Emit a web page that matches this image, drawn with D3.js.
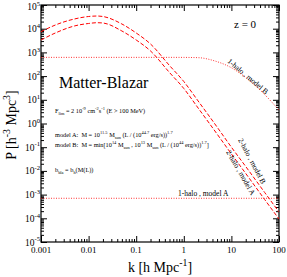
<!DOCTYPE html>
<html><head><meta charset="utf-8">
<script src="https://cdn.jsdelivr.net/npm/d3@7"></script>
<style>
body { margin: 0; background: #fff; }
text { font-family: "Liberation Serif", "Times New Roman", serif; white-space: pre; fill: #000; }
</style>
</head><body>
<script>
// k values (h/Mpc) and power spectra
const kGrid = [0.001, 0.002, 0.005, 0.01, 0.015, 0.02, 0.05, 0.1, 0.2, 0.5, 1, 2, 5, 10, 20, 50, 100]
const twoHaloB = [7460, 14300, 25600, 32700, 34300, 32700, 15800, 6590, 2260, 280, 59, 8.9, 0.71, 0.10, 0.0153, 0.00123, 1.85e-4]
const twoHaloA = [3340, 6590, 13000, 16600, 17900, 17400, 8000, 3340, 1150, 142, 30, 4.5, 0.36, 0.052, 0.0078, 6.2e-4, 9.3e-5]
const oneHaloBk = [0.001, 0.5, 1, 2, 4.5, 9.35, 19.3, 39.9, 100]
const oneHaloB = [617, 617, 615, 600, 434, 242, 92, 26, 3.7]
const oneHaloAk = [0.001, 100]
const oneHaloA = [7e-4, 7e-4]
const xTickLabels = ['0.001', '0.01', '0.1', '1', '10', '100']
const yExponents = [5, 4, 3, 2, 1, 0, -1, -2, -3, -4, -5]

const width = 287, height = 277
const margin = {top: 5, right: 8, bottom: 35, left: 41}
const red = '#ff0000'

const svg = d3.select('body').append('svg')
    .attr('width', width)
    .attr('height', height)

const x = d3.scaleLog().domain([0.001, 100]).range([margin.left, width - margin.right])
const y = d3.scaleLog().domain([1e-5, 1e5]).range([height - margin.bottom, margin.top])

// text with super/subscripts
function rich(sel, parts, size) {
    let cur = 0
    parts.forEach(([s, t]) => {
        const off = t === 'sup' ? -0.45 * size : t === 'sub' ? 0.3 * size : 0
        sel.append('tspan')
            .attr('dy', off - cur)
            .attr('font-size', t ? size * 0.7 : size)
            .text(s)
        cur = off
    })
    return sel
}

// minor ticks 2..9 per decade
function minors(lo, hi) {
    const out = []
    for (let e = lo; e < hi; e++) for (let m = 2; m <= 9; m++) out.push(m * Math.pow(10, e))
    return out
}
const xMajor = xTickLabels.map(Number)
const xMinor = minors(-3, 2)
const yMajor = yExponents.map(e => Math.pow(10, e))
const yMinor = minors(-5, 5)

const plotW = width - margin.left - margin.right
const plotH = height - margin.top - margin.bottom

function styleAxis(g) {
    g.select('.domain').remove()
    g.selectAll('line').attr('stroke', '#000').attr('stroke-width', 1)
}

// bottom and top axes
svg.append('g').attr('transform', `translate(0,${height - margin.bottom})`)
    .call(d3.axisBottom(x).tickValues(xMajor).tickSize(-6).tickFormat('')).call(styleAxis)
svg.append('g').attr('transform', `translate(0,${height - margin.bottom})`)
    .call(d3.axisBottom(x).tickValues(xMinor).tickSize(-3).tickFormat('')).call(styleAxis)
svg.append('g').attr('transform', `translate(0,${margin.top})`)
    .call(d3.axisTop(x).tickValues(xMajor).tickSize(-6).tickFormat('')).call(styleAxis)
svg.append('g').attr('transform', `translate(0,${margin.top})`)
    .call(d3.axisTop(x).tickValues(xMinor).tickSize(-3).tickFormat('')).call(styleAxis)

// left and right axes
svg.append('g').attr('transform', `translate(${margin.left},0)`)
    .call(d3.axisLeft(y).tickValues(yMajor).tickSize(-6).tickFormat('')).call(styleAxis)
svg.append('g').attr('transform', `translate(${margin.left},0)`)
    .call(d3.axisLeft(y).tickValues(yMinor).tickSize(-3).tickFormat('')).call(styleAxis)
svg.append('g').attr('transform', `translate(${width - margin.right},0)`)
    .call(d3.axisRight(y).tickValues(yMajor).tickSize(-6).tickFormat('')).call(styleAxis)
svg.append('g').attr('transform', `translate(${width - margin.right},0)`)
    .call(d3.axisRight(y).tickValues(yMinor).tickSize(-3).tickFormat('')).call(styleAxis)

// frame
svg.append('rect')
    .attr('x', margin.left).attr('y', margin.top)
    .attr('width', plotW).attr('height', plotH)
    .attr('fill', 'none').attr('stroke', '#000').attr('stroke-width', 1.2)

// tick labels
svg.selectAll('.xlab').data(xTickLabels).enter().append('text')
    .attr('x', d => x(+d))
    .attr('y', height - margin.bottom + 11)
    .attr('text-anchor', 'middle')
    .attr('font-size', 9)
    .text(d => d)

yExponents.forEach(e => {
    const t = svg.append('text')
        .attr('x', margin.left - 1)
        .attr('y', Math.max(y(Math.pow(10, e)) + 3.5, 10))
        .attr('text-anchor', 'end')
    rich(t, [['10', ''], [String(e), 'sup']], 9.5)
})

// axis titles
rich(svg.append('text')
    .attr('x', 160).attr('y', 272)
    .attr('text-anchor', 'middle'),
    [['k [h Mpc', ''], ['-1', 'sup'], [']', '']], 14)

rich(svg.append('text')
    .attr('transform', 'translate(16,125) rotate(-90)')
    .attr('text-anchor', 'middle'),
    [['P [h', ''], ['-3', 'sup'], [' Mpc', ''], ['3', 'sup'], [']', '']], 14)

// curves
const clipId = 'plotclip'
svg.append('clipPath').attr('id', clipId).append('rect')
    .attr('x', margin.left).attr('y', margin.top).attr('width', plotW).attr('height', plotH)

const line = d3.line()
    .x(d => x(d[0]))
    .y(d => y(d[1]))
    .curve(d3.curveMonotoneX)

const curves = svg.append('g').attr('clip-path', `url(#${clipId})`)

curves.append('path')
    .datum(kGrid.map((k, i) => [k, twoHaloB[i]]))
    .attr('d', line)
    .attr('fill', 'none').attr('stroke', red).attr('stroke-width', 1)
    .attr('stroke-dasharray', '4,2')

curves.append('path')
    .datum(kGrid.map((k, i) => [k, twoHaloA[i]]))
    .attr('d', line)
    .attr('fill', 'none').attr('stroke', red).attr('stroke-width', 1)
    .attr('stroke-dasharray', '4,2')

curves.append('path')
    .datum(oneHaloBk.map((k, i) => [k, oneHaloB[i]]))
    .attr('d', line)
    .attr('fill', 'none').attr('stroke', red).attr('stroke-width', 0.8)
    .attr('stroke-dasharray', '1,1.5')

curves.append('path')
    .datum(oneHaloAk.map((k, i) => [k, oneHaloA[i]]))
    .attr('d', line)
    .attr('fill', 'none').attr('stroke', red).attr('stroke-width', 0.8)
    .attr('stroke-dasharray', '1,1.5')

// annotations
svg.append('text').attr('x', 234).attr('y', 28).attr('font-size', 11).text('z = 0')
svg.append('text').attr('x', 59).attr('y', 88).attr('font-size', 16).text('Matter-Blazar')

const small = 6.3
rich(svg.append('text').attr('x', 55).attr('y', 113),
    [['F', ''], ['lim', 'sub'], [' = 2 10', ''], ['-9', 'sup'], [' cm', ''], ['-2', 'sup'], ['s', ''], ['-1', 'sup'], [' (E > 100 MeV)', '']], small)
rich(svg.append('text').attr('x', 55).attr('y', 137),
    [['model A:  M = 10', ''], ['11.5', 'sup'], [' M', ''], ['sun', 'sub'], [' (L / (10', ''], ['44.7', 'sup'], [' erg/s))', ''], ['1.7', 'sup']], small)
rich(svg.append('text').attr('x', 55).attr('y', 147),
    [['model B:  M = min[10', ''], ['14', 'sup'], [' M', ''], ['sun', 'sub'], [' , 10', ''], ['13', 'sup'], [' M', ''], ['sun', 'sub'], [' (L / (10', ''], ['44', 'sup'], [' erg/s))', ''], ['1.7', 'sup'], [']', '']], small)
rich(svg.append('text').attr('x', 55).attr('y', 172),
    [['b', ''], ['bla', 'sub'], [' = b', ''], ['h', 'sub'], ['(M(L))', '']], small)

svg.append('text').attr('x', 178).attr('y', 196).attr('font-size', 7.5).text('1-halo , model A')
svg.append('text').attr('transform', 'translate(227,62) rotate(40)').attr('font-size', 7.5).text('1-halo , model B')
svg.append('text').attr('transform', 'translate(238,140) rotate(62)').attr('font-size', 7.5).text('2-halo , model B')
svg.append('text').attr('transform', 'translate(226,152) rotate(60)').attr('font-size', 7.5).text('2-halo , model A')
</script>
</body></html>
